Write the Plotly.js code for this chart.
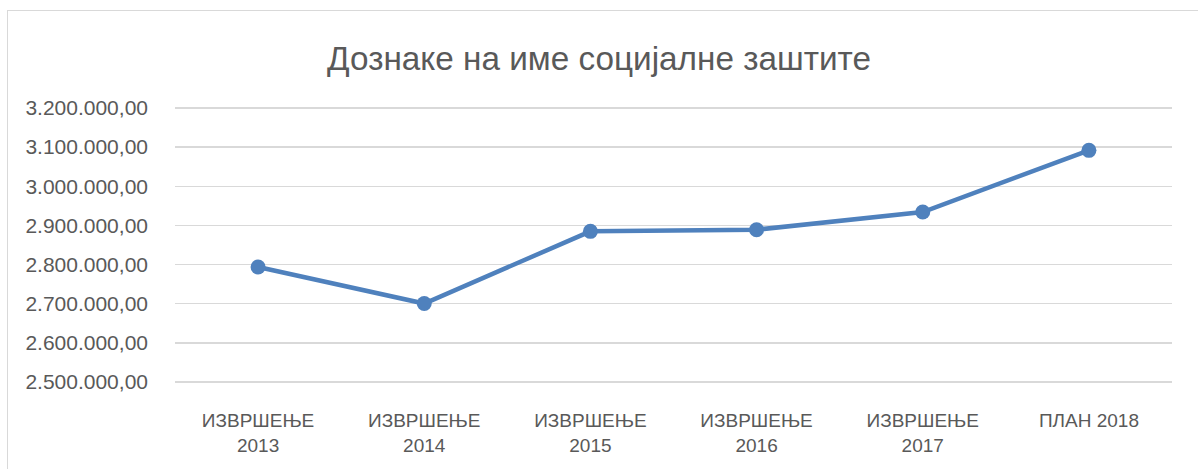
<!DOCTYPE html>
<html><head><meta charset="utf-8">
<script src="https://cdn.plot.ly/plotly-3.0.1.min.js"></script>
<style>
html,body{margin:0;padding:0;background:#fff;overflow:hidden}
#chart{position:absolute;left:0;top:0;width:1198px;height:469px}
#frame{position:absolute;left:7px;top:10px;width:1400px;height:700px;border:1.5px solid #d9d9d9;pointer-events:none}
</style></head>
<body>
<div id="chart"></div>
<div id="frame"></div>
<script>
const categories = ["ИЗВРШЕЊЕ<br>2013","ИЗВРШЕЊЕ<br>2014","ИЗВРШЕЊЕ<br>2015","ИЗВРШЕЊЕ<br>2016","ИЗВРШЕЊЕ<br>2017","ПЛАН 2018"];
const values = [2793800, 2700500, 2884800, 2889100, 2934300, 3091700];
const tickVals = [2500000,2600000,2700000,2800000,2900000,3000000,3100000,3200000];
const tickText = ["2.500.000,00","2.600.000,00","2.700.000,00","2.800.000,00","2.900.000,00","3.000.000,00","3.100.000,00","3.200.000,00"];
const titleText = "Дознаке на име социјалне заштите";

const trace = {
  x: categories, y: values, type: "scatter", mode: "lines+markers",
  line: {color: "#4f81bd", width: 4.5},
  marker: {color: "#4f81bd", size: 15},
  hoverinfo: "none", cliponaxis: false
};
const layout = {
  width: 1198, height: 469,
  margin: {l: 175, r: 26, t: 106, b: 85},
  paper_bgcolor: "#ffffff", plot_bgcolor: "#ffffff",
  showlegend: false,
  font: {family: "Liberation Sans, Arial, sans-serif", color: "#595959", size: 19},
  title: {text: titleText, x: 0.5, xanchor: "center", y: 0.876, yanchor: "middle",
          font: {size: 33.3, color: "#595959", family: "Liberation Sans, Arial, sans-serif"}},
  xaxis: {type: "category", range: [-0.5, 5.5], showgrid: false, zeroline: false, showline: false,
          ticks: "", ticklabelstandoff: 23, tickfont: {size: 19, color: "#595959"}, fixedrange: true},
  yaxis: {range: [2495000, 3205000], tickvals: tickVals, ticktext: tickText, showgrid: true,
          gridcolor: "#d9d9d9", gridwidth: 1.3, zeroline: false, showline: false, ticks: "",
          ticklabelstandoff: 26, tickfont: {size: 21, color: "#595959"}, automargin: false, fixedrange: true}
};
Plotly.newPlot("chart", [trace], layout, {displayModeBar: false, staticPlot: true});
</script>
</body></html>
